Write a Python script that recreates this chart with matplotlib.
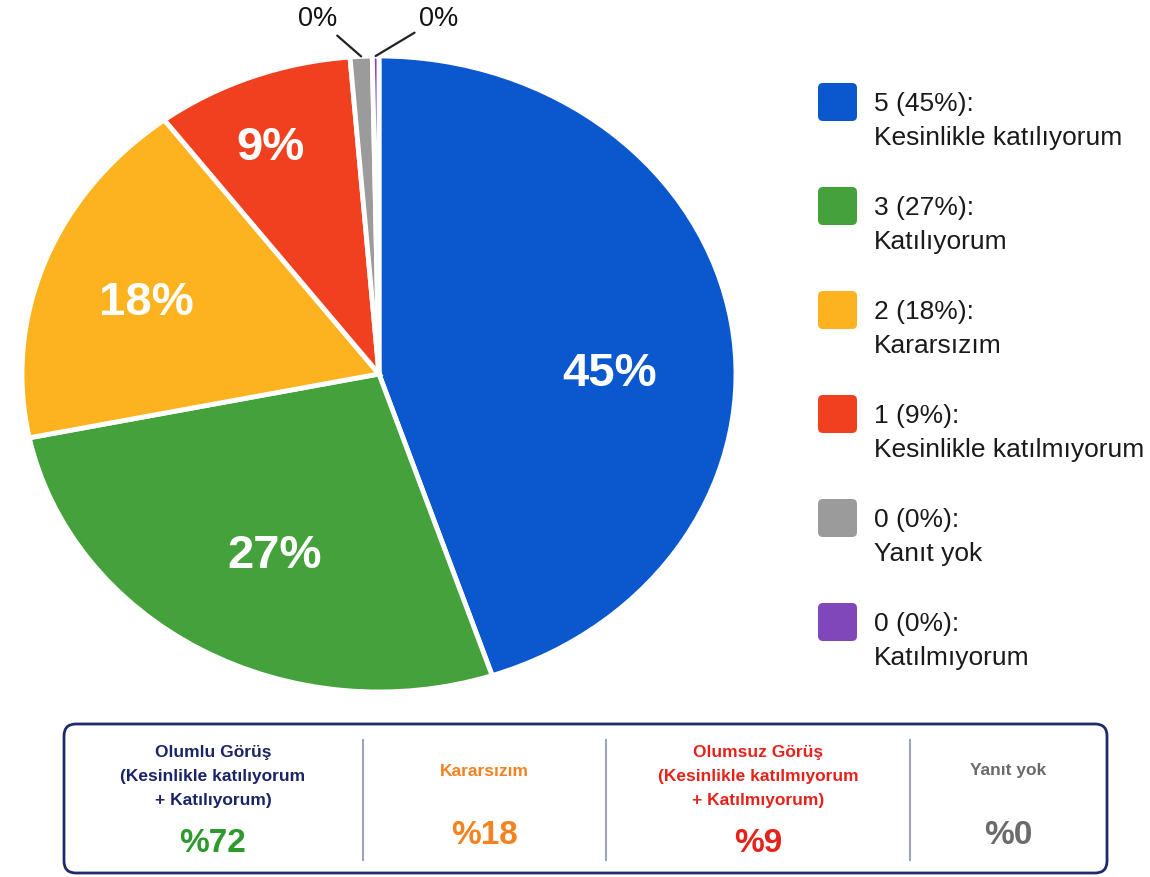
import numpy as np
import matplotlib
matplotlib.use("Agg")
import matplotlib.pyplot as plt
from matplotlib.patches import FancyBboxPatch

plt.rcParams['font.family'] = ['Liberation Sans', 'DejaVu Sans']

# data
scores = ["5", "3", "2", "1", "0", "0"]
answers = ["Kesinlikle katılıyorum", "Katılıyorum", "Kararsızım",
           "Kesinlikle katılmıyorum", "Yanıt yok", "Katılmıyorum"]
shares = [45, 27, 18, 9, 1, 0.3]
share_labels = ["45%", "27%", "18%", "9%", "0%", "0%"]
colors = ["#0b57cd", "#45a13c", "#fdb31f", "#f1401f", "#9b9b9b", "#8047bb"]

summary_titles = ["Olumlu Görüş\n(Kesinlikle katılıyorum\n+ Katılıyorum)",
                  "Kararsızım",
                  "Olumsuz Görüş\n(Kesinlikle katılmıyorum\n+ Katılmıyorum)",
                  "Yanıt yok"]
summary_values = ["%72", "%18", "%9", "%0"]
summary_colors = ["#1b2466", "#f58220", "#e5231b", "#6b6b6b"]
summary_value_colors = ["#2e9a2e", "#f58220", "#e5231b", "#6b6b6b"]

W, H = 1150, 877
fig = plt.figure(figsize=(W / 100, H / 100), dpi=100)

# pie (stretched like the reference)
ax = fig.add_axes([22 / W, 1 - 692 / H, 714 / W, 636 / H])
wedges, _ = ax.pie(shares, colors=colors, startangle=90, counterclock=False,
                   wedgeprops=dict(edgecolor="white", linewidth=3.5))
ax.set_aspect("auto")
ax.set_xlim(-1, 1)
ax.set_ylim(-1, 1)
ax.axis("off")

# label placement: radius and angle tweak from wedge middle
label_dist = [0.647, 0.643, 0.688, 0.774]
label_shift = [-9.3, 2.8, 1.8, 2.3]
for w, lab, d, s in zip(wedges[:4], share_labels[:4], label_dist, label_shift):
    a = np.deg2rad((w.theta1 + w.theta2) / 2 + s)
    ax.text(d * np.cos(a), d * np.sin(a), lab, color="white", fontsize=34,
            fontweight="bold", ha="center", va="center")

offsets = [(-31, 27), (45, 27)]
for w, lab, off in zip(wedges[4:], share_labels[4:], offsets):
    a = np.deg2rad((w.theta1 + w.theta2) / 2)
    ax.annotate(lab, xy=(np.cos(a), np.sin(a)), xytext=off,
                textcoords="offset points", fontsize=19.5, ha="center",
                va="center", color="#111111",
                arrowprops=dict(arrowstyle="-", color="#222222", lw=1.6,
                                shrinkA=1, shrinkB=0))

# overlay in pixel coordinates for legend and summary box
ov = fig.add_axes([0, 0, 1, 1])
ov.set_xlim(0, W)
ov.set_ylim(H, 0)
ov.axis("off")

for i, (sc, ans, lab, c) in enumerate(zip(scores, answers, share_labels, colors)):
    y0 = 83 + i * 104
    ov.add_patch(FancyBboxPatch((818, y0), 39, 38,
                                boxstyle="round,pad=0,rounding_size=5",
                                facecolor=c, edgecolor="none"))
    ov.text(874, y0 + 21, f"{sc} ({lab}):", fontsize=19, color="#1a1a1a",
            ha="left", va="center")
    ov.text(874, y0 + 55, ans, fontsize=19, color="#1a1a1a",
            ha="left", va="center")

ov.add_patch(FancyBboxPatch((64, 724), 1043, 149,
                            boxstyle="round,pad=0,rounding_size=12",
                            facecolor="white", edgecolor="#1f2a6c", linewidth=2))
for xd in [363, 606, 910]:
    ov.plot([xd, xd], [740, 860], color="#9ea3b8", lw=1.5)

centers = [213, 484, 758, 1008]
for cx, t, v, tc, vc in zip(centers, summary_titles, summary_values,
                            summary_colors, summary_value_colors):
    nlines = t.count("\n") + 1
    ty = 776 if nlines == 3 else 771
    ov.text(cx, ty, t, fontsize=12.5, fontweight="bold", color=tc,
            ha="center", va="center", linespacing=1.75)
    vy = 844 if nlines == 3 else 836
    ov.text(cx, vy, v, fontsize=24, fontweight="bold", color=vc,
            ha="center", va="center")

fig.savefig("out.png", dpi=100, facecolor="white")
